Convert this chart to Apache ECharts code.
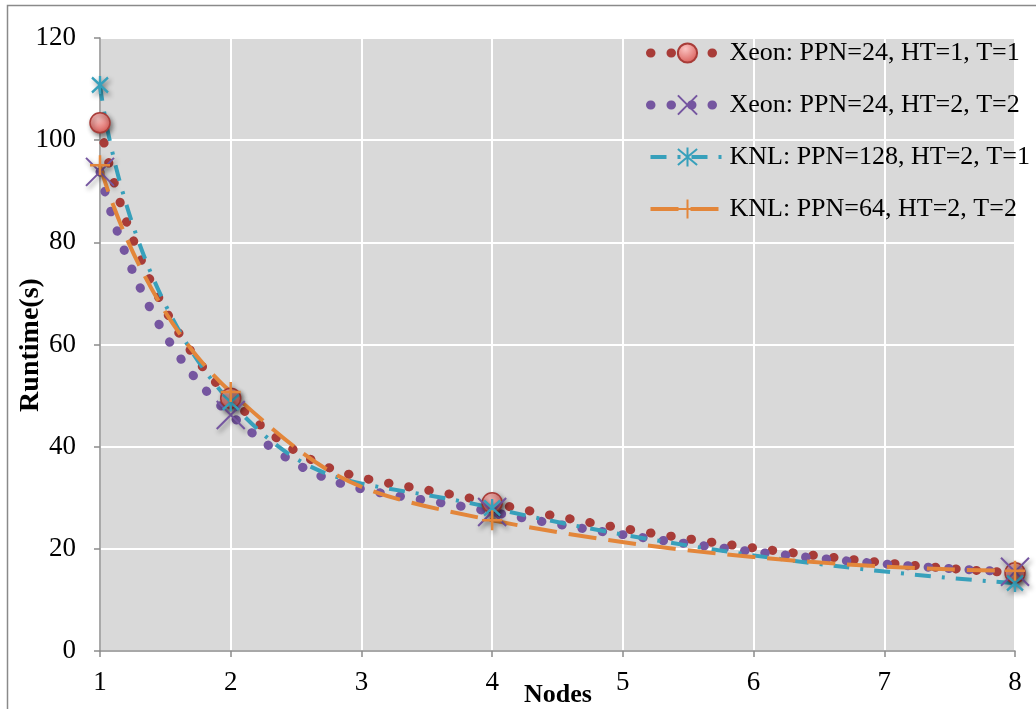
<!DOCTYPE html>
<html>
<head>
<meta charset="utf-8">
<script src="https://cdn.jsdelivr.net/npm/echarts@6/dist/echarts.min.js"></script>
<style>
html,body{margin:0;padding:0;background:#fff;}
#chart{width:1036px;height:709px;}
</style>
</head>
<body>
<div id="chart"></div>
<script>
const nodes = [1, 2, 4, 8];
const seriesNames = [
  'Xeon: PPN=24, HT=1, T=1',
  'Xeon: PPN=24, HT=2, T=2',
  'KNL: PPN=128, HT=2, T=1',
  'KNL: PPN=64, HT=2, T=2'
];
const xeonHT1 = [103.4, 49.5, 29.0, 15.3];
const xeonHT2 = [93.8, 46.2, 27.2, 15.5];
const knl128 = [110.8, 48.7, 28.0, 13.3];
const knl64 = [95.1, 50.7, 25.6, 15.7];
const yTicks = { min: 0, max: 120, interval: 20 };
const xTicks = { min: 1, max: 8, interval: 1 };

const pairs = (vals) => nodes.map((n, i) => [n, vals[i]]);
const serif = 'Liberation Serif';
const shadow = { shadowBlur: 5, shadowColor: 'rgba(0,0,0,0.45)', shadowOffsetX: 2, shadowOffsetY: 3 };
const RED = '#A83C38', PURPLE = '#7556A0', CYAN = '#37A0BB', ORANGE = '#E3863A';

const chart = echarts.init(document.getElementById('chart'), null, { renderer: 'canvas' });
chart.setOption({
  animation: false,
  backgroundColor: '#ffffff',
  graphic: [
    { type: 'rect', shape: { x: 7.5, y: 5.5, width: 1100, height: 800 }, style: { fill: 'none', stroke: '#8a8a8a', lineWidth: 1.5 }, silent: true, z: -10 },
    { type: 'text', x: 31, y: 345, rotation: Math.PI / 2, style: { text: 'Runtime(s)', font: 'bold 28px "Liberation Serif"', fill: '#000', align: 'center', verticalAlign: 'middle', x: 0, y: 0 } },
    { type: 'text', x: 558, y: 695, style: { text: 'Nodes', font: 'bold 26px "Liberation Serif"', fill: '#000', align: 'center', verticalAlign: 'middle', x: 0, y: 0 } }
  ],
  grid: { left: 100, right: 21, top: 38, bottom: 58, show: true, backgroundColor: '#D9D9D9', borderWidth: 0 },
  legend: {
    orient: 'vertical', left: 641, top: 35,
    itemWidth: 74, itemHeight: 24, itemGap: 26,
    selectedMode: false,
    textStyle: { fontFamily: serif, fontSize: 26, color: '#000' },
    data: [
      { name: seriesNames[0], lineStyle: { color: RED, width: 9, type: [0.5, 20], cap: 'round' } },
      { name: seriesNames[1], lineStyle: { color: PURPLE, width: 9, type: [0.5, 20], cap: 'round' } },
      { name: seriesNames[2], lineStyle: { color: CYAN, width: 4, type: [16, 11, 3, 11] } },
      { name: seriesNames[3], lineStyle: { color: ORANGE, width: 4, type: [28, 12] } }
    ]
  },
  xAxis: {
    type: 'value', min: xTicks.min, max: xTicks.max, interval: xTicks.interval,
    axisLine: { show: true, onZero: false, lineStyle: { color: '#8c8c8c', width: 1.5 } },
    axisTick: { show: true, length: 6, lineStyle: { color: '#8c8c8c', width: 1.5 } },
    axisLabel: { fontFamily: serif, fontSize: 27, color: '#000', margin: 18 },
    splitLine: { show: true, lineStyle: { color: '#ffffff', width: 2 } }
  },
  yAxis: {
    type: 'value', min: yTicks.min, max: yTicks.max, interval: yTicks.interval,
    axisLine: { show: true, lineStyle: { color: '#8c8c8c', width: 1.5 } },
    axisTick: { show: true, length: 6, lineStyle: { color: '#8c8c8c', width: 1.5 } },
    axisLabel: { fontFamily: serif, fontSize: 27, color: '#000', margin: 24 },
    splitLine: { show: true, lineStyle: { color: '#ffffff', width: 2 } }
  },
  series: [
    {
      name: seriesNames[0], type: 'line', data: pairs(xeonHT1), smooth: 0.5, z: 3,
      symbol: 'circle', symbolSize: 20,
      lineStyle: { color: RED, width: 9, type: [0.5, 20], cap: 'round' },
      itemStyle: Object.assign({
        color: { type: 'radial', x: 0.4, y: 0.3, r: 0.8, colorStops: [{ offset: 0, color: '#FBC4C2' }, { offset: 1, color: '#D4504B' }] },
        borderColor: RED, borderWidth: 1.5
      }, shadow)
    },
    {
      name: seriesNames[1], type: 'line', data: pairs(xeonHT2), smooth: 0.5, z: 3,
      symbol: 'path://M0,0L10,10M10,0L0,10', symbolSize: 28,
      lineStyle: { color: PURPLE, width: 9, type: [0.5, 20], cap: 'round' },
      itemStyle: Object.assign({ color: 'rgba(0,0,0,0)', borderColor: PURPLE, borderWidth: 2 }, shadow)
    },
    {
      name: seriesNames[2], type: 'line', data: pairs(knl128), smooth: 0.5, z: 3,
      symbol: 'path://M0,0L10,10M10,0L0,10M5,-1L5,11', symbolSize: [16, 18],
      lineStyle: { color: CYAN, width: 4, type: [16, 11, 3, 11] },
      itemStyle: Object.assign({ color: 'rgba(0,0,0,0)', borderColor: CYAN, borderWidth: 2.5 }, shadow)
    },
    {
      name: seriesNames[3], type: 'line', data: pairs(knl64), smooth: 0.5, z: 3,
      symbol: 'path://M0,5L10,5M5,0L5,10', symbolSize: 20,
      lineStyle: { color: ORANGE, width: 4, type: [28, 12] },
      itemStyle: Object.assign({ color: 'rgba(0,0,0,0)', borderColor: ORANGE, borderWidth: 2.5 }, shadow)
    }
  ]
});
</script>
</body>
</html>
